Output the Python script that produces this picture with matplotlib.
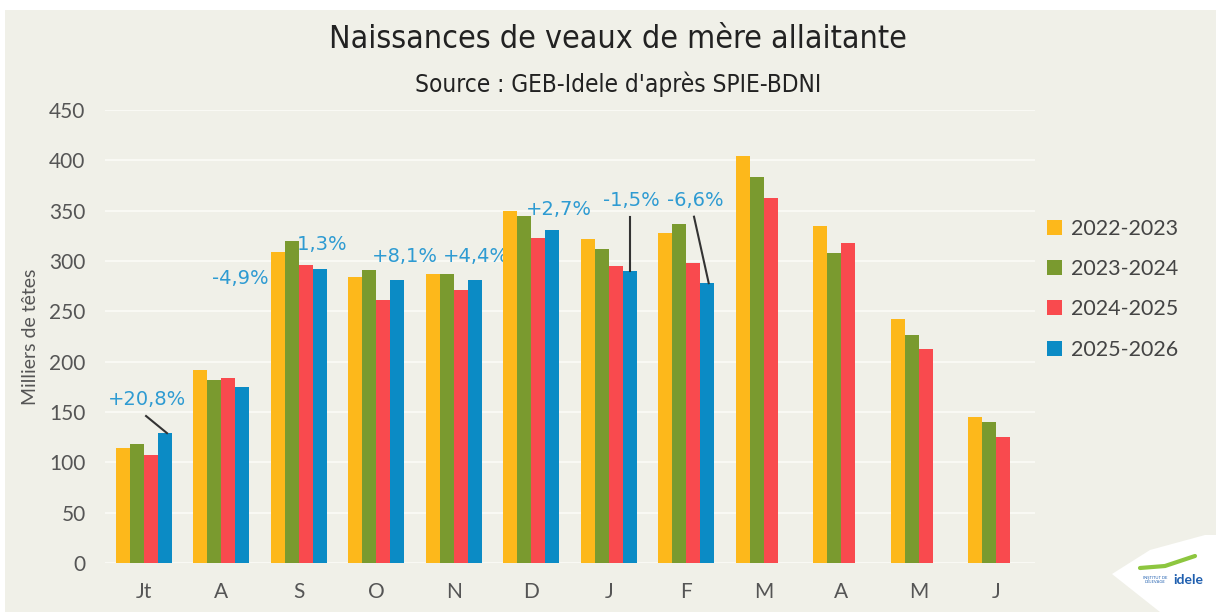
import matplotlib.pyplot as plt
import matplotlib.patches as mpatches
from matplotlib.lines import Line2D
import numpy as np

months = ['Jt', 'A', 'S', 'O', 'N', 'D', 'J', 'F', 'M', 'A', 'M', 'J']
seasons = ['2022-2023', '2023-2024', '2024-2025', '2025-2026']
v2022 = [114, 192, 309, 284, 287, 350, 322, 328, 404, 335, 242, 145]
v2023 = [118, 182, 320, 291, 287, 345, 312, 337, 383, 308, 226, 140]
v2024 = [107, 184, 296, 261, 271, 323, 295, 298, 363, 318, 213, 125]
v2025 = [129, 175, 292, 281, 281, 331, 290, 278]  # campagne en cours
evolutions = ['+20,8%', '-4,9%', '-1,3%', '+8,1%', '+4,4%', '+2,7%', '-1,5%', '-6,6%']

colors = ['#FDB81B', '#7A9A2F', '#F94A4E', '#0B8BC5']
bg = '#F0F0E8'
txt_blue = '#2E9BD2'

fig = plt.figure(figsize=(12.16, 6.12), dpi=100, facecolor='white')
fig.patches.append(mpatches.Rectangle((5 / 1216, 0), 1, 1 - 10 / 612, transform=fig.transFigure,
                                      facecolor=bg, edgecolor='none', zorder=-10))
ax = fig.add_axes([105 / 1216, 49 / 612, 930 / 1216, 453 / 612])
ax.set_facecolor(bg)

x = np.arange(len(months))
w = 0.18
offsets = [-1.5 * w, -0.5 * w, 0.5 * w, 1.5 * w]
series = [v2022, v2023, v2024, v2025]
handles = []
for vals, off, c, lab in zip(series, offsets, colors, seasons):
    b = ax.bar(x[:len(vals)] + off, vals, w, color=c, label=lab, zorder=3)
    handles.append(b)

ax.set_xlim(-0.5, 11.5)
ax.set_ylim(0, 450)
ax.set_yticks(np.arange(0, 451, 50))
ax.set_xticks(x)
ax.set_xticklabels(months)
ax.grid(axis='y', color='#FBFBF7', linewidth=1.2, zorder=0)
for s in ax.spines.values():
    s.set_visible(False)
ax.tick_params(length=0, labelsize=15, colors='#555555', pad=14)
for lab in ax.get_xticklabels() + ax.get_yticklabels():
    lab.set_family('Lato')
ax.set_ylabel('Milliers de têtes', fontsize=14, color='#555555', family='Lato')
ax.yaxis.set_label_coords(-66 / 930, 0.5)

# étiquettes d'évolution (2025-2026 vs 2024-2025)
lbl_pos = [(0.04, 162), (1.24, 283), (2.25, 316), (3.37, 304), (4.29, 304),
           (5.35, 351), (6.29, 360), (7.12, 360)]
for (tx, ty), t in zip(lbl_pos, evolutions):
    ax.text(tx, ty, t, ha='center', va='center', fontsize=14, color=txt_blue,
            family='DejaVu Sans', zorder=2)

# traits de rappel
bx = x + offsets[3]
ax.plot([0.03, bx[0] + 0.03], [146, v2025[0]], color='#333333', lw=1.5, zorder=4)
ax.plot([bx[6], bx[6]], [344, v2025[6]], color='#333333', lw=1.5, zorder=4)
ax.plot([7.10, bx[7] + 0.02], [344, v2025[7]], color='#333333', lw=1.5, zorder=4)

fig.text(0.508, 0.936, 'Naissances de veaux de mère allaitante', ha='center', va='center',
         fontsize=23, color='#222222', family='DejaVu Sans', fontstretch='condensed')
fig.text(0.508, 0.863, "Source : GEB-Idele d'après SPIE-BDNI", ha='center', va='center',
         fontsize=17.5, color='#222222', family='DejaVu Sans', fontstretch='condensed')

leg = fig.legend(handles=handles, labels=seasons, loc='upper left',
                 bbox_to_anchor=(1047 / 1216, 1 - 219 / 612), frameon=False,
                 handlelength=0.7, handleheight=0.7, handletextpad=0.4,
                 labelspacing=0.94, borderpad=0, borderaxespad=0,
                 prop={'family': 'Lato', 'size': 15.5})
for t in leg.get_texts():
    t.set_color('#444444')

# logo
px = [(1112, 574), (1150, 550), (1205, 535), (1216, 535), (1216, 612), (1160, 612)]
fig.patches.append(mpatches.Polygon([(a / 1216, 1 - b / 612) for a, b in px], closed=True,
                                    transform=fig.transFigure, facecolor='white',
                                    edgecolor='none', zorder=-5))
fig.lines.append(Line2D([1140 / 1216, 1165 / 1216, 1195 / 1216],
                        [1 - 568 / 612, 1 - 566 / 612, 1 - 556 / 612],
                        transform=fig.transFigure, color='#8DC63F', lw=3,
                        solid_capstyle='round'))
fig.text(1188 / 1216, 1 - 580 / 612, 'idele', ha='center', va='center', fontsize=10,
         color='#1F5FAF', weight='bold', family='Lato')
fig.text(1155 / 1216, 1 - 580 / 612, "INSTITUT DE\nL'ÉLEVAGE", ha='center', va='center',
         fontsize=3, color='#1F5FAF', family='Lato', linespacing=1.0)

fig.savefig('out.png', dpi=100, facecolor='white')
